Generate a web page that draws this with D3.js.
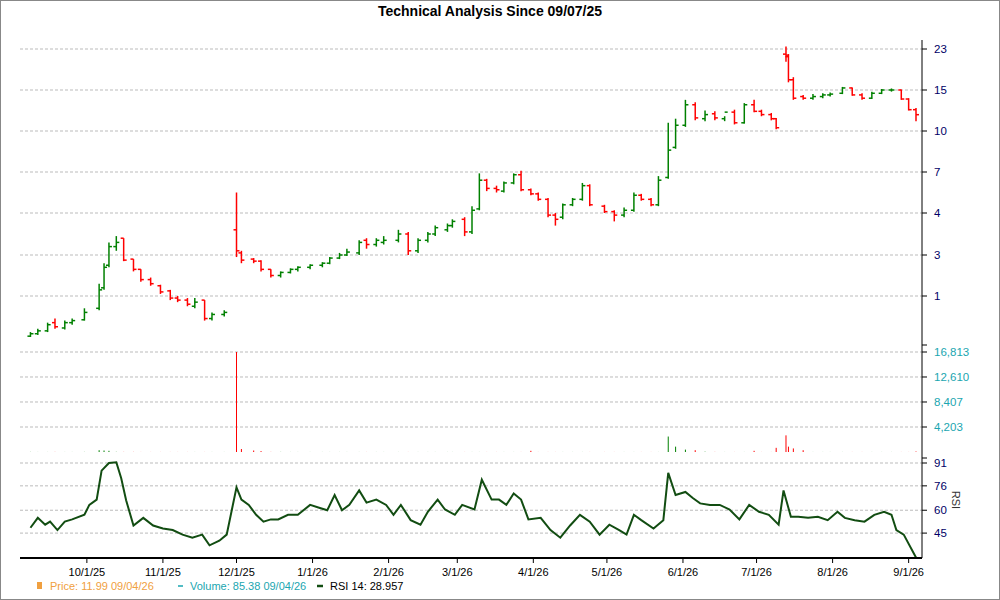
<!DOCTYPE html>
<html><head><meta charset="utf-8">
<script src="https://cdn.jsdelivr.net/npm/d3@7"></script>
<style>body{margin:0;background:#fff}svg{font-family:Arial,"Liberation Sans",sans-serif}</style>
</head><body><svg id="c" width="1000" height="600"></svg>
<script>
const dates=["2025-09-08","2025-09-11","2025-09-15","2025-09-18","2025-09-22","2025-09-25","2025-09-30",
"2025-10-06","2025-10-08","2025-10-10","2025-10-13","2025-10-16","2025-10-20","2025-10-23","2025-10-27","2025-10-31",
"2025-11-04","2025-11-07","2025-11-11","2025-11-14","2025-11-18","2025-11-21","2025-11-26",
"2025-12-01","2025-12-03","2025-12-08","2025-12-11","2025-12-15","2025-12-19","2025-12-23","2025-12-26","2025-12-31",
"2026-01-05","2026-01-08","2026-01-12","2026-01-15","2026-01-20","2026-01-23","2026-01-27","2026-01-30",
"2026-02-05","2026-02-09","2026-02-13","2026-02-17","2026-02-20","2026-02-25","2026-02-27",
"2026-03-04","2026-03-07","2026-03-10","2026-03-13","2026-03-17","2026-03-20","2026-03-24","2026-03-27","2026-03-31",
"2026-04-03","2026-04-07","2026-04-10","2026-04-13","2026-04-17","2026-04-21","2026-04-24","2026-04-30",
"2026-05-04","2026-05-08","2026-05-12","2026-05-15","2026-05-19","2026-05-22","2026-05-26","2026-05-29","2026-06-02",
"2026-06-06","2026-06-10","2026-06-14","2026-06-18","2026-06-22","2026-06-26","2026-06-30",
"2026-07-03","2026-07-07","2026-07-09","2026-07-13","2026-07-14","2026-07-16","2026-07-20","2026-07-24","2026-07-28","2026-07-31",
"2026-08-05","2026-08-09","2026-08-13","2026-08-17","2026-08-21","2026-08-25","2026-08-29","2026-09-01","2026-09-04"];
const opens=[0.02,0.08,0.15,0.35,0.22,0.35,0.42, 0.7,1.4,2.5,3.2,3.4,2.8,2.3,1.8,1.5, 1.25,0.95,0.9,0.75,0.9,0.45,0.55, 3.6,3.05,2.8,2.7,2.3,2.0,2.15,2.3,2.4,
2.5,2.6,2.85,3.0,3.05,3.35,3.25,3.3, 3.35,3.5,3.1,3.35,3.5,3.6,3.7, 3.85,3.55,4.3,6.4,5.8,5.6,6.2,6.8,5.7,
5.4,5.0,3.95,3.9,4.6,5.0,6.0,4.5, 4.1,3.95,4.2,5.3,5.0,4.6,6.6,8.8,10.7, 13.2,11.5,12.1,11.5,12.3,11.0,13.2,
12.4,12.0,11.5,22.0,21.5,17.0,14.2,14.0,14.2,14.4, 14.6,15.4,14.4,14.0,14.6,15.0,15.0,13.9,12.6];
const highs=[0.12,0.2,0.35,0.45,0.4,0.45,0.7, 1.6,2.6,3.3,3.45,3.4,2.8,2.3,1.9,1.55, 1.3,1.0,0.95,0.95,0.9,0.6,0.65, 5.5,3.1,2.85,2.75,2.3,2.2,2.35,2.45,2.55,
2.65,2.9,3.05,3.15,3.35,3.4,3.4,3.45, 3.6,3.55,3.4,3.55,3.7,3.75,3.85, 3.9,4.5,6.9,6.5,6.0,6.3,6.9,7.1,5.8,
5.5,5.1,4.0,4.7,5.1,6.2,6.1,4.6, 4.2,4.4,5.5,5.4,5.1,6.7,11.0,11.5,13.8, 13.5,12.5,12.4,11.8,12.6,13.4,13.8,
12.6,12.2,11.6,23.5,22.0,17.5,14.4,14.5,14.6,14.7, 15.6,15.5,14.6,14.8,15.2,15.3,15.1,14.0,12.8];
const lows=[0.0,0.05,0.12,0.2,0.18,0.3,0.4, 0.65,1.3,2.4,3.1,2.7,2.2,1.7,1.5,1.1, 0.9,0.85,0.75,0.7,0.4,0.4,0.5, 2.9,2.6,2.6,2.2,1.9,1.9,2.1,2.2,2.3,
2.4,2.55,2.8,2.95,3.0,3.15,3.2,3.25, 3.3,3.0,3.05,3.3,3.45,3.55,3.65, 3.45,3.5,4.2,5.6,5.5,5.5,6.1,5.6,5.3,
4.9,3.9,3.7,3.85,4.5,4.9,4.5,4.0, 3.8,3.9,4.1,4.9,4.5,4.5,6.5,8.7,10.5, 11.3,11.2,11.3,11.2,10.8,10.9,12.3,
11.8,11.3,10.2,20.5,16.5,13.8,13.8,13.8,14.0,14.2, 14.5,14.3,13.8,13.9,14.5,14.8,13.8,12.5,11.2];
const closes=[0.08,0.15,0.3,0.25,0.35,0.4,0.6, 1.3,2.4,3.2,3.3,2.75,2.3,1.8,1.6,1.2, 0.95,0.9,0.8,0.85,0.45,0.55,0.6, 3.1,2.75,2.7,2.3,2.0,2.15,2.3,2.4,2.5,
2.6,2.85,3.0,3.07,3.3,3.25,3.35,3.35, 3.5,3.1,3.35,3.5,3.65,3.7,3.8, 3.55,4.2,6.4,5.8,5.7,6.2,6.8,5.7,5.4,
5.0,3.95,3.85,4.6,5.0,6.0,4.6,4.1, 3.95,4.2,5.3,5.0,4.6,6.4,8.6,10.7,13.2, 11.6,12.0,11.6,12.3,11.0,13.2,12.4,
12.0,11.5,10.4,21.8,17.0,14.0,14.0,14.2,14.4,14.5, 15.4,14.4,14.0,14.6,15.0,15.0,13.9,12.6,11.99];
const volumes=[20,10,10,20,10,10,20, 300,250,200,30,20,20,10,10,10, 10,10,10,10,10,10,10, 16813,500,250,150,20,20,10,10,10,
10,10,10,10,10,10,10,10, 10,10,10,10,10,10,10, 10,10,10,10,10,10,10,10,200, 10,10,10,10,10,10,10,10,
10,10,10,10,10,10,2600,900,400, 300,50,20,10,10,10,200, 10,10,700,2800,900,600,300,10,10,10, 10,10,10,10,10,10,10,10,85.38];
const rsiDates=["2025-09-08","2025-09-11","2025-09-14","2025-09-16","2025-09-19","2025-09-22","2025-09-25","2025-09-30","2025-10-02","2025-10-05","2025-10-07","2025-10-10","2025-10-13","2025-10-15","2025-10-17","2025-10-20","2025-10-24","2025-10-28","2025-11-01","2025-11-05","2025-11-09","2025-11-13","2025-11-17","2025-11-20","2025-11-24","2025-11-27","2025-12-01","2025-12-03","2025-12-06","2025-12-09","2025-12-12","2025-12-15","2025-12-18","2025-12-22","2025-12-26","2025-12-31","2026-01-04","2026-01-07","2026-01-10","2026-01-13","2026-01-16","2026-01-20","2026-01-23","2026-01-27","2026-01-31","2026-02-03","2026-02-06","2026-02-10","2026-02-14","2026-02-17","2026-02-21","2026-02-24","2026-02-28","2026-03-03","2026-03-08","2026-03-11","2026-03-15","2026-03-18","2026-03-21","2026-03-24","2026-03-27","2026-03-30","2026-04-04","2026-04-08","2026-04-12","2026-04-16","2026-04-20","2026-04-24","2026-04-28","2026-05-02","2026-05-06","2026-05-09","2026-05-12","2026-05-15","2026-05-20","2026-05-24","2026-05-26","2026-05-29","2026-06-02","2026-06-05","2026-06-08","2026-06-12","2026-06-16","2026-06-20","2026-06-24","2026-06-28","2026-07-02","2026-07-06","2026-07-10","2026-07-12","2026-07-15","2026-07-18","2026-07-22","2026-07-26","2026-07-30","2026-08-03","2026-08-06","2026-08-10","2026-08-14","2026-08-18","2026-08-22","2026-08-25","2026-08-27","2026-08-30","2026-09-04"];
const rsiValues=[48.5,55,50.5,52.5,47,52.5,54,57,63.5,67,86,91,91.5,81,66.5,50,55,50,48,47,44,42,44,37,40,44,75,67,63.5,57,52.5,54,54,57,57,63.5,61.5,60,70,60,63.5,73,65,67,63.5,57,63.5,53.5,50.5,59,67,60.5,57,63.5,60.5,80,67,67,63.5,71,67,54,55,47,42,50,57,52.5,44,50.5,47,44,57,53.5,48,53.5,84.5,70,72,68,64.5,63.5,63.5,60.5,54,63.5,59,57,50.5,73,55.7,55.7,55,55.7,53.5,59,55,53.5,52.5,57,59,57,47,44,28.957];
const priceTicks=[1,3,4,7,10,15,23];
const volTicks=[4203,8407,12610,16813];
const rsiTicks=[45,60,76,91];
const xTicks=["2025-10-01","2025-11-01","2025-12-01","2026-01-01","2026-02-01","2026-03-01","2026-04-01","2026-05-01","2026-06-01","2026-07-01","2026-08-01","2026-09-01"];

const P=d3.timeParse("%Y-%m-%d");
const svg=d3.select("#c");
const L=20,R=922;
const x=d3.scaleTime().domain([P("2025-09-07"),P("2026-09-04")]).range([28,916]);
const yP=d3.scaleLinear().domain([0,1,3,4,7,10,15,23]).range([337,296,255,213,172,131,90,49]);
const yV=d3.scaleLinear().domain([0,16813]).range([452,352]);
const yR=d3.scaleLinear().domain([28,91]).range([559,463]);

svg.append("rect").attr("x",0.5).attr("y",0.5).attr("width",999).attr("height",599).attr("fill","none").attr("stroke","#888");
svg.append("text").attr("x",490).attr("y",16).attr("text-anchor","middle").attr("font-size",14).attr("font-weight","bold").text("Technical Analysis Since 09/07/25");

function grid(scale,ticks,fmt,color){
  ticks.forEach(t=>{
    svg.append("line").attr("x1",L).attr("x2",R).attr("y1",scale(t)).attr("y2",scale(t)).attr("stroke","#bbb").attr("stroke-dasharray","3,2");
    svg.append("line").attr("x1",R).attr("x2",R+5).attr("y1",scale(t)).attr("y2",scale(t)).attr("stroke","#000");
    svg.append("text").attr("x",R+12).attr("y",scale(t)+4).attr("font-size",11.5).attr("fill",color).text(fmt(t));
  });
}
grid(yP,priceTicks,d=>d,"#000066");
grid(yV,volTicks,d3.format(","),"#1aa6b0");
grid(yR,rsiTicks,d=>d,"#000066");
svg.append("line").attr("x1",R).attr("x2",R).attr("y1",40).attr("y2",558).attr("stroke","#000");
svg.append("line").attr("x1",R).attr("x2",R+5).attr("y1",345).attr("y2",345).attr("stroke","#000");
svg.append("line").attr("x1",R).attr("x2",R+5).attr("y1",458).attr("y2",458).attr("stroke","#000");
svg.append("text").attr("transform","translate(952,500) rotate(90)").attr("text-anchor","middle").attr("font-size",11).attr("fill","#333").text("RSI");

dates.forEach((d,i)=>{
  const cx=x(P(d)), c=closes[i]>=opens[i]?"#008000":"#ff0000";
  const g=svg.append("g").attr("stroke",c).attr("stroke-width",1.5);
  g.append("line").attr("x1",cx).attr("x2",cx).attr("y1",yP(highs[i])).attr("y2",yP(lows[i]));
  g.append("line").attr("x1",cx-3).attr("x2",cx).attr("y1",yP(opens[i])).attr("y2",yP(opens[i]));
  g.append("line").attr("x1",cx).attr("x2",cx+3).attr("y1",yP(closes[i])).attr("y2",yP(closes[i]));
  svg.append("line").attr("x1",cx).attr("x2",cx).attr("y1",yV(0)).attr("y2",yV(volumes[i])).attr("stroke",c).attr("stroke-width",1);
});
svg.append("path").datum(rsiDates.map((d,i)=>[P(d),rsiValues[i]]))
  .attr("d",d3.line().x(d=>x(d[0])).y(d=>yR(d[1])))
  .attr("fill","none").attr("stroke","#124d12").attr("stroke-width",2);

svg.append("line").attr("x1",L).attr("x2",R).attr("y1",558).attr("y2",558).attr("stroke","#000").attr("stroke-width",2);
const fx=d3.timeFormat("%-m/%-d/%y");
xTicks.forEach(t=>{const px=x(P(t));
  svg.append("line").attr("x1",px).attr("x2",px).attr("y1",558).attr("y2",563).attr("stroke","#000");
  svg.append("text").attr("x",px).attr("y",576).attr("text-anchor","middle").attr("font-size",11).text(fx(P(t)));
});
svg.append("rect").attr("x",37).attr("y",582).attr("width",5).attr("height",7).attr("fill","#f0a040");
svg.append("text").attr("x",50).attr("y",590).attr("font-size",11).attr("fill","#f0a040").text("Price: 11.99  09/04/26");
svg.append("line").attr("x1",178).attr("x2",183).attr("y1",586).attr("y2",586).attr("stroke","#1aa6b0").attr("stroke-width",1.5);
svg.append("text").attr("x",190).attr("y",590).attr("font-size",11).attr("fill","#1aa6b0").text("Volume: 85.38  09/04/26");
svg.append("line").attr("x1",317).attr("x2",323).attr("y1",586).attr("y2",586).attr("stroke","#124d12").attr("stroke-width",2.5);
svg.append("text").attr("x",330).attr("y",590).attr("font-size",11).attr("fill","#000").text("RSI 14: 28.957");
</script></body></html>
